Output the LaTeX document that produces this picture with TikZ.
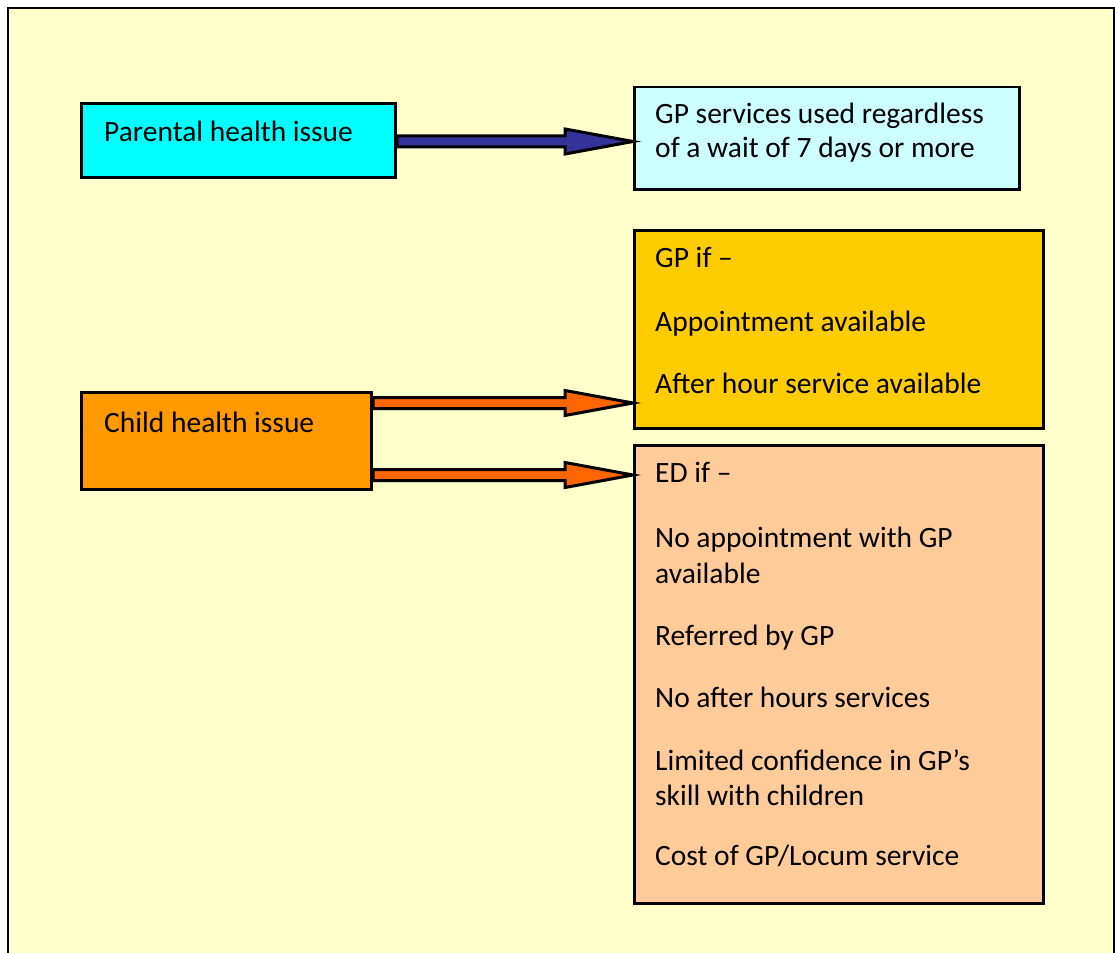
\documentclass[tikz,border=0pt]{standalone}
\usepackage{fontspec}
\setmainfont{Carlito}
\usetikzlibrary{calc}
\definecolor{paper}{HTML}{FFFFCC}
\definecolor{cyanbox}{HTML}{00FFFF}
\definecolor{paleblue}{HTML}{CCFFFF}
\definecolor{goldbox}{HTML}{FFCC00}
\definecolor{orangebox}{HTML}{FF9900}
\definecolor{peachbox}{HTML}{FFCC99}
\definecolor{navyarrow}{HTML}{333399}
\definecolor{orangearrow}{HTML}{FF6600}
\tikzset{
  box/.style={draw=black, line width=3pt, inner sep=0pt, anchor=north west},
  label/.style={anchor=base west, inner sep=0pt, font=\fontsize{29.5}{35}\selectfont},
  fatarrow/.style={draw=black, line width=3pt, line join=miter},
}
% fat block arrow between two anchors: #1 style, #2 start, #3 tip
\newcommand\blockarrow[3]{%
  \draw[fatarrow,#1] let \p1=(#2), \p2=(#3) in
    (\x1,\y1+5.5pt) -- (\x2-68pt,\y1+5.5pt) -- (\x2-68pt,\y1+12.5pt) -- (\x2,\y1)
    -- (\x2-68pt,\y1-12.5pt) -- (\x2-68pt,\y1-5.5pt) -- (\x1,\y1-5.5pt) -- cycle;}
\begin{document}
\begin{tikzpicture}[x=1pt,y=-1pt]
\useasboundingbox (0,0) rectangle (1115,952);
\fill[white] (0,0) rectangle (1115,952);
% frame
\draw[fill=paper, line width=2.5pt] (8,8) rectangle (1114,970);

% boxes
\node[box, fill=cyanbox, minimum width=314, minimum height=74] (par) at (80,102) {};
\node[box, fill=paleblue, line width=2.5pt, minimum width=385, minimum height=102] (gps) at (633,86) {};
\node[box, fill=goldbox, minimum width=409, minimum height=198] (gpif) at (633,229) {};
\node[box, fill=orangebox, minimum width=290, minimum height=97] (child) at (80,391) {};
\node[box, fill=peachbox, minimum width=409, minimum height=458] (edif) at (633,444) {};

% arrows
\coordinate (pa) at ($(par.east)+(0,1)$);
\coordinate (pt) at (gps.west |- pa);
\blockarrow{fill=navyarrow}{pa}{pt}
\coordinate (ca1) at (child.east |- 0,403);
\coordinate (ct1) at (gpif.west |- ca1);
\coordinate (ca2) at (child.east |- 0,475);
\coordinate (ct2) at (edif.west |- ca2);
\blockarrow{fill=orangearrow}{ca1}{ct1}
\blockarrow{fill=orangearrow}{ca2}{ct2}

% texts (placed on their baselines)
\node[label] (t1) at (104,142) {Parental health issue};
\node[label] (t2) at (655,124) {GP services used regardless};
\node[label] (t3) at (655,158) {of a wait of 7 days or more};
\node[label] (t4) at (655,267) {GP if –};
\node[label] (t5) at (655,331) {Appointment available};
\node[label] (t6) at (655,393) {After hour service available};
\node[label] (t7) at (104,432) {Child health issue};
\node[label] (t8) at (655,482) {ED if –};
\node[label] (t9) at (655,547) {No appointment with GP};
\node[label] (t10) at (655,583) {available};
\node[label] (t11) at (655,645) {Referred by GP};
\node[label] (t12) at (655,707) {No after hours services};
\node[label] (t13) at (655,770) {Limited confidence in GP’s};
\node[label] (t14) at (655,805) {skill with children};
\node[label] (t15) at (655,865) {Cost of GP/Locum service};
\end{tikzpicture}
\end{document}
